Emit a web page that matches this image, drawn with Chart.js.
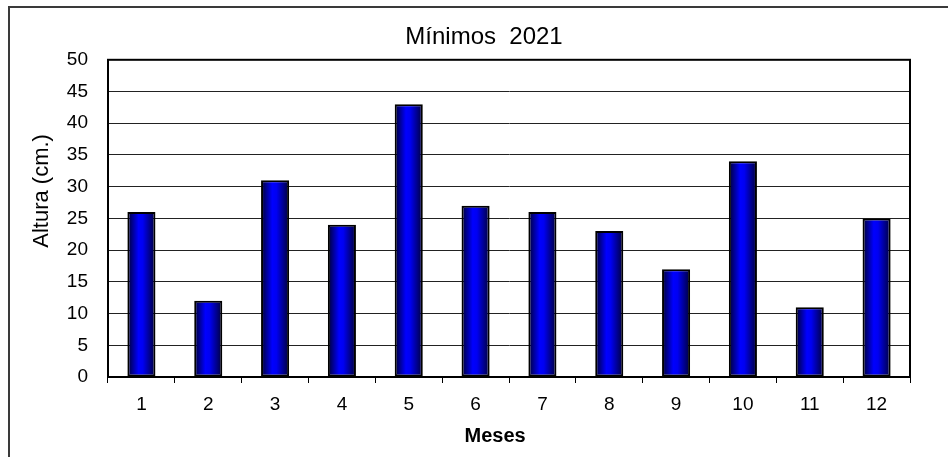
<!DOCTYPE html>
<html>
<head>
<meta charset="utf-8">
<script src="https://cdn.jsdelivr.net/npm/chart.js@4/dist/chart.umd.min.js"></script>
<style>
  html, body { margin: 0; padding: 0; background: #fff; }
  #wrap { width: 948px; height: 457px; }
</style>
</head>
<body>
<div id="wrap"><canvas id="chart"></canvas></div>
<script>
// Data
const meses = ['1', '2', '3', '4', '5', '6', '7', '8', '9', '10', '11', '12'];
const minimos = [26, 12, 31, 24, 43, 27, 26, 23, 17, 34, 11, 25];
const yMin = 0, yMax = 50, yStep = 5;

const FONT = "'Liberation Sans', Arial, sans-serif";
const BAR_PCT = 0.42;

// Horizontal shading on each bar, dark edges and a bright blue core
function barGradient(c) {
    const chart = c.chart;
    const xs = chart.scales.x;
    if (!xs || c.dataIndex === undefined) return '#0000ff';
    const cx = xs.getPixelForValue(c.dataIndex);
    const half = (xs.width / meses.length) * BAR_PCT / 2;
    if (!isFinite(cx) || !isFinite(half) || half <= 0) return '#0000ff';
    const g = chart.ctx.createLinearGradient(cx - half, 0, cx + half, 0);
    g.addColorStop(0, '#000030');
    g.addColorStop(0.4, '#0000ff');
    g.addColorStop(0.55, '#0000f2');
    g.addColorStop(1, '#000038');
    return g;
}

// Outer chart frame and plot area border
const frames = {
    id: 'frames',
    beforeDraw(chart) {
        const ctx = chart.ctx;
        ctx.save();
        ctx.strokeStyle = '#3a3a3a';
        ctx.lineWidth = 2;
        ctx.strokeRect(9, 7, 1000, 1000);
        ctx.restore();
    },
    afterDatasetsDraw(chart) {
        const a = chart.chartArea;
        const ctx = chart.ctx;
        ctx.save();
        ctx.strokeStyle = '#000';
        ctx.lineWidth = 2;
        ctx.strokeRect(a.left, a.top, a.right - a.left, a.bottom - a.top);
        ctx.restore();
    }
};

new Chart(document.getElementById('chart'), {
    type: 'bar',
    data: {
        labels: meses,
        datasets: [{
            label: 'Mínimos',
            data: minimos,
            backgroundColor: barGradient,
            borderColor: '#000',
            borderWidth: 2,
            borderSkipped: false,
            categoryPercentage: 1,
            barPercentage: BAR_PCT
        }]
    },
    options: {
        responsive: true,
        maintainAspectRatio: false,
        animation: false,
        layout: { padding: { top: 7, right: 38, bottom: 0, left: 58 } },
        plugins: {
            legend: { display: false },
            tooltip: { enabled: false },
            title: {
                display: true,
                text: 'Mínimos  2021',
                color: '#000',
                font: { family: FONT, size: 24, weight: 'normal' },
                padding: { top: 16, bottom: 8 }
            }
        },
        scales: {
            x: {
                grid: { display: true, drawOnChartArea: false, drawTicks: true, tickLength: 6, offset: true, color: '#000' },
                border: { display: true, color: '#000', width: 2 },
                ticks: { color: '#000', font: { family: FONT, size: 19 }, padding: 10, maxRotation: 0 },
                // trailing spaces nudge the title a little left of the plot centre, as in the original
                title: { display: true, text: 'Meses     ', color: '#000', font: { family: FONT, size: 20, weight: 'bold' }, padding: { top: 0, bottom: 9 } },
                afterFit(s) { s.height = 80; }
            },
            y: {
                min: yMin,
                max: yMax,
                grid: { color: '#222', lineWidth: 1, drawTicks: false },
                border: { display: true, color: '#000', width: 2 },
                ticks: { stepSize: yStep, color: '#000', font: { family: FONT, size: 19 }, padding: 20 },
                // leading spaces lift the title above the plot centre
                title: { display: true, text: '         Altura (cm.)', color: '#000', font: { family: FONT, size: 22 }, padding: { top: -29, bottom: 0 } },
                afterFit(s) { s.width = 50; }
            }
        }
    },
    plugins: [frames]
});
</script>
</body>
</html>
